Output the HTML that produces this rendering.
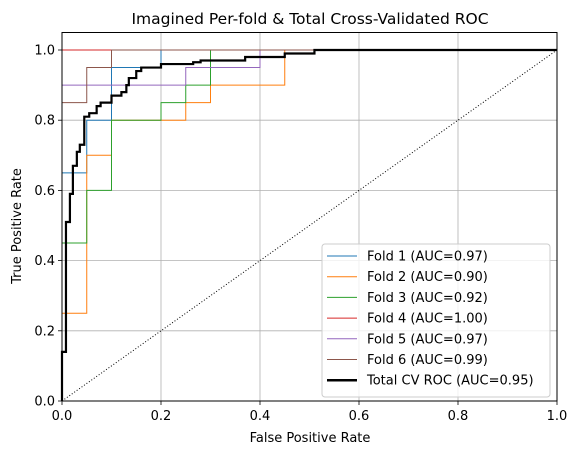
<!DOCTYPE html>
<html><head><meta charset="utf-8"><style>
body{margin:0;background:#fff}
svg{font-family:"DejaVu Sans","Liberation Sans",sans-serif}
</style></head><body>
<svg id="chart" width="578" height="455" xmlns="http://www.w3.org/2000/svg">
<rect width="578" height="455" fill="#fff"/>
<text x="310" y="24" font-size="15.5" text-anchor="middle">Imagined Per-fold &amp; Total Cross-Validated ROC</text>
<g id="grid"></g>
<g id="series"></g>
<g id="axes"></g>
<g id="legend"></g>
<text x="310" y="442" font-size="13" text-anchor="middle">False Positive Rate</text>
<text x="21" y="226" font-size="13" text-anchor="middle" transform="rotate(-90 21 226)">True Positive Rate</text>
</svg>
<script>
const ticks = [0, 0.2, 0.4, 0.6, 0.8, 1.0];
const tickLabels = ["0.0","0.2","0.4","0.6","0.8","1.0"];
const foldNames = ["Fold 1 (AUC=0.97)","Fold 2 (AUC=0.90)","Fold 3 (AUC=0.92)","Fold 4 (AUC=1.00)","Fold 5 (AUC=0.97)","Fold 6 (AUC=0.99)"];
const foldColors = ["#1f77b4","#ff7f0e","#2ca02c","#d62728","#9467bd","#8c564b"];
const fold1Fpr = [0, 0.05, 0.1, 0.2, 1];
const fold1Tpr = [0.65, 0.8, 0.95, 1.0, 1.0];
const fold2Fpr = [0, 0.05, 0.1, 0.25, 0.3, 0.45, 1];
const fold2Tpr = [0.25, 0.7, 0.8, 0.85, 0.9, 1.0, 1.0];
const fold3Fpr = [0, 0.05, 0.1, 0.2, 0.25, 0.3, 1];
const fold3Tpr = [0.45, 0.6, 0.8, 0.85, 0.9, 1.0, 1.0];
const fold4Fpr = [0, 1];
const fold4Tpr = [1.0, 1.0];
const fold5Fpr = [0, 0.25, 0.4, 1];
const fold5Tpr = [0.9, 0.95, 1.0, 1.0];
const fold6Fpr = [0, 0.05, 0.1, 1];
const fold6Tpr = [0.85, 0.95, 1.0, 1.0];
const totalFpr = [0, 0.008, 0.016, 0.022, 0.03, 0.036, 0.045, 0.055, 0.07, 0.078, 0.1, 0.12, 0.13, 0.135, 0.15, 0.16, 0.2, 0.265, 0.28, 0.37, 0.45, 0.51, 1];
const totalTpr = [0.14, 0.51, 0.59, 0.67, 0.71, 0.73, 0.81, 0.82, 0.84, 0.85, 0.87, 0.88, 0.9, 0.92, 0.94, 0.95, 0.96, 0.965, 0.97, 0.98, 0.99, 1.0, 1.0];

const X0=62, X1=557, Y0=401, Y1=50;
const sx = v => X0 + v*(X1-X0);
const sy = v => Y0 - v*(Y0-Y1);
const NS="http://www.w3.org/2000/svg";
function mk(tag, attrs, parent){const e=document.createElementNS(NS,tag);for(const k in attrs)e.setAttribute(k,attrs[k]);parent.appendChild(e);return e;}
const grid=document.getElementById('grid'), axes=document.getElementById('axes'), series=document.getElementById('series'), legend=document.getElementById('legend');
ticks.forEach((t,i)=>{
  const gx=mk('line',{x1:sx(t),x2:sx(t),y1:sy(1.05),y2:Y0,stroke:'#b0b0b0','stroke-width':0.8},grid);
  
  
  const gy=mk('line',{x1:X0,x2:X1,y1:sy(t),y2:sy(t),stroke:'#b0b0b0','stroke-width':0.8},grid);
  
  
  mk('line',{x1:sx(t),x2:sx(t),y1:Y0,y2:Y0+4,stroke:'#000','stroke-width':0.8},axes);
  mk('line',{x1:X0-4,x2:X0,y1:sy(t),y2:sy(t),stroke:'#000','stroke-width':0.8},axes);
  const xl=mk('text',{x:sx(t),y:Y0+19,'font-size':13,'text-anchor':'middle'},axes);
  xl.textContent=tickLabels[i];
  
  
  const yl=mk('text',{x:X0-7,y:sy(t)+4.5,'font-size':13,'text-anchor':'end'},axes);
  yl.textContent=tickLabels[i];
  
  
});
const diag=mk('line',{x1:sx(0),y1:sy(0),x2:sx(1),y2:sy(1),stroke:'#000','stroke-width':1,'stroke-dasharray':'1,2'},series);


function stepPath(fpr,tpr){
  let d=`M${sx(0)},${sy(0)}`;
  for(let i=0;i<fpr.length;i++){
    d+=` L${sx(fpr[i])},${sy(i===0?0:tpr[i-1])} L${sx(fpr[i])},${sy(tpr[i])}`;
  }
  return d;
}
const folds=[[fold1Fpr,fold1Tpr],[fold2Fpr,fold2Tpr],[fold3Fpr,fold3Tpr],[fold4Fpr,fold4Tpr],[fold5Fpr,fold5Tpr],[fold6Fpr,fold6Tpr]];
folds.forEach((f,i)=>{
  const p=mk('path',{d:stepPath(f[0],f[1]),fill:'none',stroke:foldColors[i],'stroke-width':1},series);
  
  
});
const tp=mk('path',{d:stepPath(totalFpr,totalTpr),fill:'none',stroke:'#000','stroke-width':2.2},series);


mk('rect',{x:X0,y:Y1-17.5,width:X1-X0,height:Y0-Y1+17.5,fill:'none',stroke:'#000','stroke-width':1},axes);
const lb=mk('rect',{x:322,y:244,width:228,height:153,rx:3,fill:'#fff','fill-opacity':0.8,stroke:'#ccc','stroke-width':1},legend);


const names=foldNames.concat(["Total CV ROC (AUC=0.95)"]);
const cols=foldColors.concat(["#000"]);
names.forEach((n,i)=>{
  const y=256+i*20.7;
  mk('line',{x1:327,x2:357,y1:y,y2:y,stroke:cols[i],'stroke-width':i===6?2.5:1},legend);
  const t=mk('text',{x:367,y:y+4.5,'font-size':13},legend);
  t.textContent=n;
  
  
});
</script>
</body></html>
